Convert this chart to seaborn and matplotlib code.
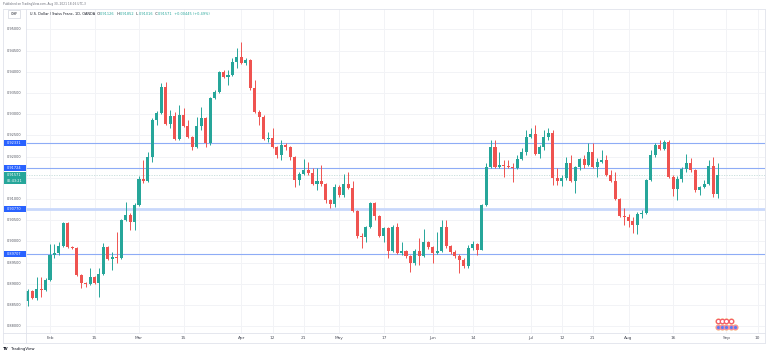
import numpy as np
import pandas as pd
import matplotlib
matplotlib.use("Agg")
import matplotlib.pyplot as plt
import seaborn as sns
from matplotlib.transforms import blended_transform_factory
from matplotlib.patches import Rectangle
from matplotlib.lines import Line2D

# USD/CHF daily candles (OANDA), Jan 25 - Aug 30 2021
dates = pd.bdate_range("2021-01-25", "2021-08-30")

opens = [0.88594, 0.88830, 0.88665, 0.88877, 0.88853,
         0.89089, 0.89679, 0.89726, 0.89891, 0.90434, 0.89868, 0.89844, 0.89207, 0.89019, 0.88995,
         0.89160, 0.89019, 0.89231, 0.89868, 0.89585, 0.89632, 0.89608, 0.90505, 0.90623, 0.90458,
         0.90858, 0.91472, 0.91425, 0.91991, 0.92863, 0.93028, 0.93642, 0.92769, 0.92958, 0.92415,
         0.92981, 0.92722, 0.92462, 0.92226, 0.92722, 0.92910, 0.92321, 0.93382, 0.93524, 0.93995,
         0.93877, 0.93925, 0.94231, 0.94349, 0.94208, 0.94278, 0.93618, 0.93052, 0.92934, 0.92415,
         0.92439, 0.92226, 0.92038, 0.92274, 0.92226, 0.91991, 0.91448, 0.91590, 0.91684, 0.91613,
         0.91354, 0.91425, 0.91354, 0.90976, 0.90882, 0.91283, 0.91094, 0.91354, 0.91259, 0.90717,
         0.90127, 0.90104, 0.90340, 0.90906, 0.90599, 0.90127, 0.90316, 0.89774, 0.90340, 0.89726,
         0.89774, 0.89656, 0.89490, 0.89774, 0.89656, 0.89986, 0.89868, 0.89726, 0.89774, 0.90340,
         0.89891, 0.89750, 0.89656, 0.89561, 0.89419, 0.89844, 0.89939, 0.89809, 0.90858, 0.91755,
         0.92226, 0.91755, 0.91802, 0.91778, 0.91755, 0.91731, 0.91943, 0.92109, 0.92462, 0.92533,
         0.92061, 0.92226, 0.92462, 0.92557, 0.91495, 0.91425, 0.91495, 0.91849, 0.91425, 0.91755,
         0.91943, 0.91802, 0.92109, 0.91755, 0.91873, 0.91920, 0.91566, 0.91425, 0.91000, 0.90599,
         0.90575, 0.90481, 0.90387, 0.90646, 0.90670, 0.91448, 0.92038, 0.92274, 0.92179, 0.92344,
         0.91519, 0.91236, 0.91472, 0.91708, 0.91849, 0.91684, 0.91212, 0.91283, 0.91354, 0.91778,
         0.91126]

highs = [0.88877, 0.88853, 0.89160, 0.89160, 0.89136,
         0.89939, 0.89939, 0.89986, 0.90458, 0.90458, 0.89891, 0.89868, 0.89231, 0.89042, 0.89372,
         0.89183, 0.89372, 0.89962, 0.89891, 0.89750, 0.90222, 0.90528, 0.90929, 0.90670, 0.90906,
         0.91542, 0.91920, 0.92109, 0.92910, 0.93076, 0.93736, 0.93759, 0.93099, 0.93052, 0.93217,
         0.93146, 0.92863, 0.92486, 0.92934, 0.93170, 0.92934, 0.93406, 0.93571, 0.94019, 0.94042,
         0.94042, 0.94325, 0.94561, 0.94703, 0.94325, 0.94302, 0.93807, 0.93099, 0.92981, 0.92580,
         0.92675, 0.92250, 0.92392, 0.92321, 0.92250, 0.92014, 0.91637, 0.91943, 0.91873, 0.91731,
         0.91731, 0.91802, 0.91377, 0.91000, 0.91354, 0.91330, 0.91590, 0.91637, 0.91425, 0.90741,
         0.90198, 0.90363, 0.90929, 0.90929, 0.90623, 0.90340, 0.90340, 0.90387, 0.90434, 0.89986,
         0.89797, 0.89679, 0.89821, 0.90080, 0.90292, 0.90009, 0.89891, 0.90222, 0.90505, 0.90505,
         0.89915, 0.89797, 0.89703, 0.89608, 0.89915, 0.90009, 0.89962, 0.90882, 0.91849, 0.92392,
         0.92392, 0.92109, 0.91920, 0.91920, 0.91849, 0.92038, 0.92203, 0.92627, 0.92675, 0.92745,
         0.92274, 0.92627, 0.92675, 0.92627, 0.91731, 0.91566, 0.91991, 0.92038, 0.91780, 0.91967,
         0.92038, 0.92321, 0.92321, 0.91967, 0.92156, 0.92038, 0.91684, 0.91637, 0.91024, 0.90788,
         0.90646, 0.90575, 0.90693, 0.90741, 0.91472, 0.92156, 0.92321, 0.92392, 0.92392, 0.92392,
         0.91566, 0.91542, 0.91755, 0.92061, 0.91967, 0.91708, 0.91307, 0.91448, 0.91920, 0.91991,
         0.91852]

lows = [0.88476, 0.88641, 0.88618, 0.88688, 0.88830,
        0.89066, 0.89608, 0.89679, 0.89868, 0.89844, 0.89821, 0.89183, 0.88901, 0.88924, 0.88971,
        0.88995, 0.88688, 0.89207, 0.89561, 0.89325, 0.89490, 0.89585, 0.90481, 0.90269, 0.90269,
        0.90835, 0.91377, 0.91401, 0.91873, 0.92745, 0.93005, 0.92745, 0.92675, 0.92392, 0.92392,
        0.92698, 0.92439, 0.92156, 0.92203, 0.92627, 0.92226, 0.92274, 0.93359, 0.93500, 0.93854,
        0.93689, 0.93901, 0.94090, 0.94184, 0.94160, 0.93571, 0.93028, 0.92745, 0.92392, 0.92344,
        0.92203, 0.91967, 0.91920, 0.92156, 0.91920, 0.91283, 0.91330, 0.91566, 0.91566, 0.91330,
        0.91212, 0.91307, 0.90906, 0.90788, 0.90811, 0.91047, 0.91047, 0.91236, 0.90693, 0.90080,
        0.89844, 0.89986, 0.90316, 0.90505, 0.90104, 0.89986, 0.89608, 0.89750, 0.89703, 0.89679,
        0.89608, 0.89278, 0.89443, 0.89443, 0.89632, 0.89821, 0.89490, 0.89703, 0.89750, 0.89844,
        0.89703, 0.89608, 0.89254, 0.89372, 0.89372, 0.89797, 0.89679, 0.89797, 0.90835, 0.91731,
        0.91731, 0.91731, 0.91519, 0.91731, 0.91401, 0.91708, 0.91920, 0.92038, 0.92439, 0.92038,
        0.91967, 0.92156, 0.92392, 0.91330, 0.91330, 0.91307, 0.91448, 0.91401, 0.91141, 0.91684,
        0.91731, 0.91778, 0.91731, 0.91519, 0.91849, 0.91542, 0.91401, 0.90976, 0.90575, 0.90387,
        0.90340, 0.90198, 0.90175, 0.90552, 0.90646, 0.91425, 0.91991, 0.92156, 0.92156, 0.91495,
        0.91071, 0.90976, 0.91401, 0.91637, 0.91637, 0.91165, 0.91094, 0.91259, 0.91330, 0.91047,
        0.91016]

closes = [0.88830, 0.88665, 0.88877, 0.88853, 0.89089,
          0.89679, 0.89726, 0.89891, 0.90434, 0.89868, 0.89844, 0.89207, 0.89019, 0.88995, 0.89160,
          0.89019, 0.89231, 0.89868, 0.89585, 0.89632, 0.89608, 0.90505, 0.90623, 0.90458, 0.90858,
          0.91472, 0.91425, 0.91991, 0.92863, 0.93028, 0.93642, 0.92769, 0.92958, 0.92415, 0.92981,
          0.92722, 0.92462, 0.92226, 0.92722, 0.92910, 0.92321, 0.93382, 0.93524, 0.93995, 0.93877,
          0.93925, 0.94231, 0.94349, 0.94208, 0.94278, 0.93618, 0.93052, 0.92934, 0.92415, 0.92439,
          0.92226, 0.92038, 0.92274, 0.92226, 0.91991, 0.91448, 0.91590, 0.91684, 0.91613, 0.91354,
          0.91425, 0.91354, 0.90976, 0.90882, 0.91283, 0.91094, 0.91354, 0.91259, 0.90717, 0.90127,
          0.90104, 0.90340, 0.90906, 0.90599, 0.90127, 0.90316, 0.89774, 0.90340, 0.89726, 0.89774,
          0.89656, 0.89490, 0.89774, 0.89656, 0.89986, 0.89868, 0.89726, 0.89774, 0.90340, 0.89891,
          0.89750, 0.89656, 0.89561, 0.89419, 0.89844, 0.89939, 0.89809, 0.90858, 0.91755, 0.92226,
          0.91755, 0.91802, 0.91778, 0.91755, 0.91731, 0.91943, 0.92109, 0.92462, 0.92533, 0.92061,
          0.92226, 0.92462, 0.92557, 0.91495, 0.91425, 0.91495, 0.91849, 0.91425, 0.91755, 0.91943,
          0.91802, 0.92109, 0.91755, 0.91873, 0.91920, 0.91566, 0.91425, 0.91000, 0.90599, 0.90575,
          0.90481, 0.90387, 0.90646, 0.90670, 0.91448, 0.92038, 0.92274, 0.92179, 0.92344, 0.91519,
          0.91236, 0.91472, 0.91708, 0.91849, 0.91684, 0.91212, 0.91283, 0.91354, 0.91778, 0.91126,
          0.91571]

# horizontal levels drawn on the chart
levels = [0.92331, 0.91724, 0.90770, 0.89707]
level_width = [0.8, 0.8, 2.0, 0.8]
level_color = ["#8eacf6", "#8eacf6", "#c9d8fb", "#8eacf6"]
last_time = "06:43:21"

y_ticks = [0.880, 0.885, 0.890, 0.895, 0.900, 0.905, 0.910, 0.915,
           0.920, 0.925, 0.930, 0.935, 0.940, 0.945, 0.950]
tick_dates = ["2021-02-01", "2021-02-15", "2021-03-01", "2021-03-15", "2021-04-01",
              "2021-04-12", "2021-04-21", "2021-05-03", "2021-05-17", "2021-06-01",
              "2021-06-14", "2021-07-01", "2021-07-12", "2021-07-21", "2021-08-02",
              "2021-08-16", "2021-09-01", "2021-09-10"]
tick_labels = ["Feb", "15", "Mar", "15", "Apr", "12", "21", "May", "17", "Jun",
               "14", "Jul", "12", "21", "Aug", "16", "Sep", "10"]
events_top = ["2021-08-30", "2021-08-31", "2021-09-01", "2021-09-02"]
events_bottom = ["2021-08-30", "2021-08-31", "2021-09-01", "2021-09-02", "2021-09-03"]

UP = "#26a69a"
DOWN = "#ef5350"
BLUE = "#2962ff"
TXT = "#50535e"
GRID = "#f2f3f6"
FRAME = "#e0e3eb"

sns.set_style("white")
plt.rcParams["font.family"] = ["DejaVu Sans"]

W, H = 768, 355
fig = plt.figure(figsize=(W / 100, H / 100), dpi=100)
fig.patch.set_facecolor("white")

# plot area in pixels: x 26..765, y 9..333
ax = fig.add_axes([26 / W, (H - 333) / H, (765 - 26) / W, (333 - 9) / H])
for s in ax.spines.values():
    s.set_visible(False)
ax.set_xticks([])
ax.set_yticks([])

all_days = pd.bdate_range("2021-01-25", "2021-09-10")
day_pos = {d: k for k, d in enumerate(all_days)}
x = np.array([day_pos[d] for d in dates])
tick_x = [day_pos[pd.Timestamp(d)] for d in tick_dates]

ax.set_xlim(-0.393, 165.67)
ax.set_ylim(0.87840, 0.95481)
px = (0.95481 - 0.87840) / 324  # price per pixel

# grid
ax.vlines(tick_x, 0.87840, 0.95481, color=GRID, lw=0.7, zorder=0)
ax.hlines(y_ticks, -1, 170, color=GRID, lw=0.7, zorder=0)

# level lines and last price line
for lv, lw_, c in zip(levels, level_width, level_color):
    ax.axhline(lv, color=c, lw=lw_, zorder=1)
ax.axhline(closes[-1], color="#c4dcd9", lw=0.6, ls=(0, (1.5, 1.5)), zorder=1)

# candles
o = np.array(opens)
c = np.array(closes)
hi = np.array(highs)
lo = np.array(lows)
col = np.where(c >= o, UP, DOWN)
ax.vlines(x, lo, hi, colors=col, lw=0.7, zorder=2)
body = np.maximum(np.abs(c - o), 0.9 * px)
ax.bar(x, body, bottom=np.minimum(o, c), width=0.68, color=col, lw=0, zorder=3)

# y axis labels (left strip)
ty = blended_transform_factory(ax.transAxes, ax.transData)
xa = (14.5 - 26) / 739
for t in y_ticks:
    ax.text(xa, t, f"{t:.5f}", transform=ty, fontsize=2.5, color=TXT,
            ha="center", va="center", clip_on=False, zorder=5)

bx = (4 - 26) / 739
for lv in levels:
    ax.add_patch(Rectangle((bx, lv - 3 * px), -bx, 6 * px, transform=ty,
                           fc=BLUE, ec="none", clip_on=False, zorder=6))
    ax.text(xa, lv, f"{lv:.5f}", transform=ty, fontsize=2.5, color="white",
            ha="center", va="center", clip_on=False, zorder=7)
ax.add_patch(Rectangle((bx, closes[-1] - 8.8 * px), -bx, 11.8 * px, transform=ty,
                       fc=UP, ec="none", clip_on=False, zorder=6))
ax.text(xa, closes[-1] - 0.2 * px, f"{closes[-1]:.5f}", transform=ty, fontsize=2.5,
        color="white", ha="center", va="center", clip_on=False, zorder=7)
ax.text(xa, closes[-1] - 5.8 * px, last_time, transform=ty, fontsize=2.5,
        color="white", ha="center", va="center", clip_on=False, zorder=7)

# x axis labels
tx = blended_transform_factory(ax.transData, ax.transAxes)
for k, lab in zip(tick_x, tick_labels):
    ax.text(k, -5.2 / 324, lab, transform=tx, fontsize=3.1, color=TXT,
            ha="center", va="center", clip_on=False)

# economic event markers
ex_top = [day_pos[pd.Timestamp(d)] for d in events_top]
ex_bot = [day_pos[pd.Timestamp(d)] for d in events_bottom]
ax.scatter(ex_top, [12.5 / 324] * len(ex_top), transform=tx, s=20, color="#fbd98a",
           lw=0, zorder=4, clip_on=False)
ax.scatter(ex_top, [12.5 / 324] * len(ex_top), transform=tx, s=10, facecolor="white",
           edgecolor="#f45b6a", lw=0.9, zorder=5, clip_on=False)
ax.scatter(ex_bot, [6.0 / 324] * len(ex_bot), transform=tx, s=20, color="#fbd98a",
           lw=0, zorder=4, clip_on=False)
ax.scatter(ex_bot, [6.0 / 324] * len(ex_bot), transform=tx, s=10, facecolor="#5a7cf2",
           edgecolor="#f48fa0", lw=0.9, zorder=5, clip_on=False)


def fpx(xp, yp):
    return xp / W, 1 - yp / H


# frame
for (x0, y0, x1, y1) in [(3, 9, 765, 9), (3, 343, 765, 343), (3, 9, 3, 343),
                         (765, 9, 765, 343), (26, 9, 26, 343), (3, 333, 765, 333)]:
    a, b = fpx(x0, y0)
    a2, b2 = fpx(x1, y1)
    fig.add_artist(Line2D([a, a2], [b, b2], color=FRAME, lw=0.6))

# header texts
fig.text(*fpx(3, 4.2), "Published on TradingView.com, Aug 30, 2021 18:16 UTC-3",
         fontsize=2.1, color="#6a6d78", va="center")
fig.text(*fpx(14, 14.3), "CHF", fontsize=2.5, color="#131722", ha="center", va="center",
         bbox=dict(boxstyle="square,pad=0.6", fc="white", ec="#c9ccd6", lw=0.4))

fig.canvas.draw()
rend = fig.canvas.get_renderer()
chg = closes[-1] - opens[-1]
parts = [("U.S. Dollar / Swiss Franc, 1D, OANDA", "#131722"),
         ("  O", "#131722"), (f"{opens[-1]:.5f}", UP),
         ("  H", "#131722"), (f"{highs[-1]:.5f}", UP),
         ("  L", "#131722"), (f"{lows[-1]:.5f}", UP),
         ("  C", "#131722"), (f"{closes[-1]:.5f}", UP),
         (f"  {chg:+.5f} ({chg / opens[-1] * 100:+.2f}%)", UP)]
xcur = 30
for s, cc in parts:
    t = fig.text(*fpx(xcur, 14.3), s, fontsize=2.5, color=cc, va="center")
    xcur += t.get_window_extent(renderer=rend).width

fig.text(*fpx(3, 349), "TV", fontsize=2.8, color="#131722", weight="bold", va="center")
fig.text(*fpx(11, 349), "TradingView", fontsize=2.8, color="#131722", va="center")

fig.savefig("out.png", dpi=100)
